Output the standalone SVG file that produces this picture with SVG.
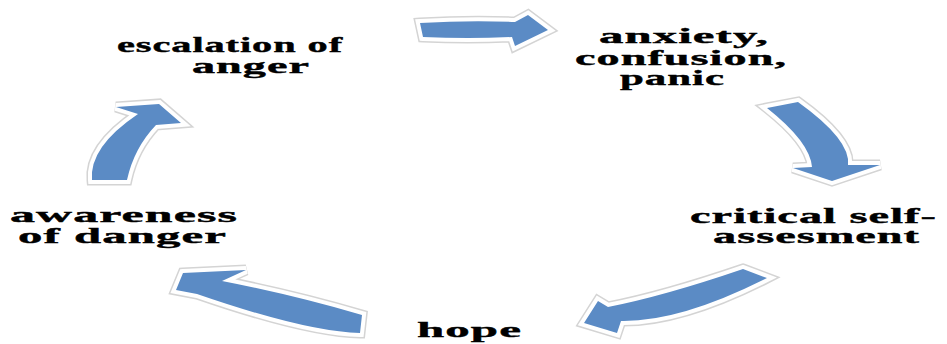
<svg xmlns="http://www.w3.org/2000/svg" xmlns:xlink="http://www.w3.org/1999/xlink" width="947" height="344" viewBox="0 0 947 344">
<style>
.t{font-family:"Liberation Serif","Times New Roman",serif;font-weight:bold;font-size:22px;fill:#000;stroke:#000;stroke-width:0.4;letter-spacing:0.5px}
.rim{fill:none;stroke:#d4d4d4;stroke-width:11;stroke-linejoin:miter;stroke-miterlimit:3}
.rim2{fill:none;stroke:#fff;stroke-width:8;stroke-linejoin:miter;stroke-miterlimit:3}
.fill{fill:#5b8bc5;stroke:none}
</style>
<defs>
<path id="a1" d="M420,23 Q470,20 515,22 L528,15 L548,30 L515,46 L512,37 Q468,39 423,37 Z"/>
<path id="a2" d="M767,108 L798,102 Q851,140 848,165 L880,165 L832,181 L793,168 L812,167 Q810,142 767,108 Z"/>
<path id="a3" d="M743,269 L767,278 Q680,322 621,321 L617,333 L584,323 L598,301 L608,307 Q664,296 743,269 Z"/>
<path id="a4" d="M183,273 L246,270 L222,281 Q294,295 362,315 L360,333 Q307,332 197,294 L176,290 Z"/>
<path id="a5" d="M92,180 Q89,147 138,114 L116,107 L159,104 L181,123 L156,125 Q134,148 127,180 Z"/>
</defs>
<g id="connectors">
<use xlink:href="#a1" class="rim"/><use xlink:href="#a1" class="rim2"/><use xlink:href="#a1" class="fill"/>
<use xlink:href="#a2" class="rim"/><use xlink:href="#a2" class="rim2"/><use xlink:href="#a2" class="fill"/>
<use xlink:href="#a3" class="rim"/><use xlink:href="#a3" class="rim2"/><use xlink:href="#a3" class="fill"/>
<use xlink:href="#a4" class="rim"/><use xlink:href="#a4" class="rim2"/><use xlink:href="#a4" class="fill"/>
<use xlink:href="#a5" class="rim"/><use xlink:href="#a5" class="rim2"/><use xlink:href="#a5" class="fill"/>
</g>
<g id="node-escalation">
<text class="t" x="117" y="52" textLength="226" lengthAdjust="spacingAndGlyphs">escalation of</text>
<text class="t" x="192" y="73" textLength="118" lengthAdjust="spacingAndGlyphs">anger</text>
</g>
<g id="node-anxiety">
<text class="t" x="599" y="43" textLength="170" lengthAdjust="spacingAndGlyphs">anxiety,</text>
<text class="t" x="575" y="65" textLength="212" lengthAdjust="spacingAndGlyphs">confusion,</text>
<text class="t" x="620" y="85" textLength="105" lengthAdjust="spacingAndGlyphs">panic</text>
</g>
<g id="node-critical">
<text class="t" x="690" y="223" textLength="247" lengthAdjust="spacingAndGlyphs">critical self-</text>
<text class="t" x="713" y="243" textLength="207" lengthAdjust="spacingAndGlyphs">assesment</text>
</g>
<g id="node-hope">
<text class="t" x="417" y="337" textLength="105" lengthAdjust="spacingAndGlyphs">hope</text>
</g>
<g id="node-awareness">
<text class="t" x="10" y="222" textLength="228" lengthAdjust="spacingAndGlyphs">awareness</text>
<text class="t" x="18" y="243" textLength="209" lengthAdjust="spacingAndGlyphs">of danger</text>
</g>
</svg>
